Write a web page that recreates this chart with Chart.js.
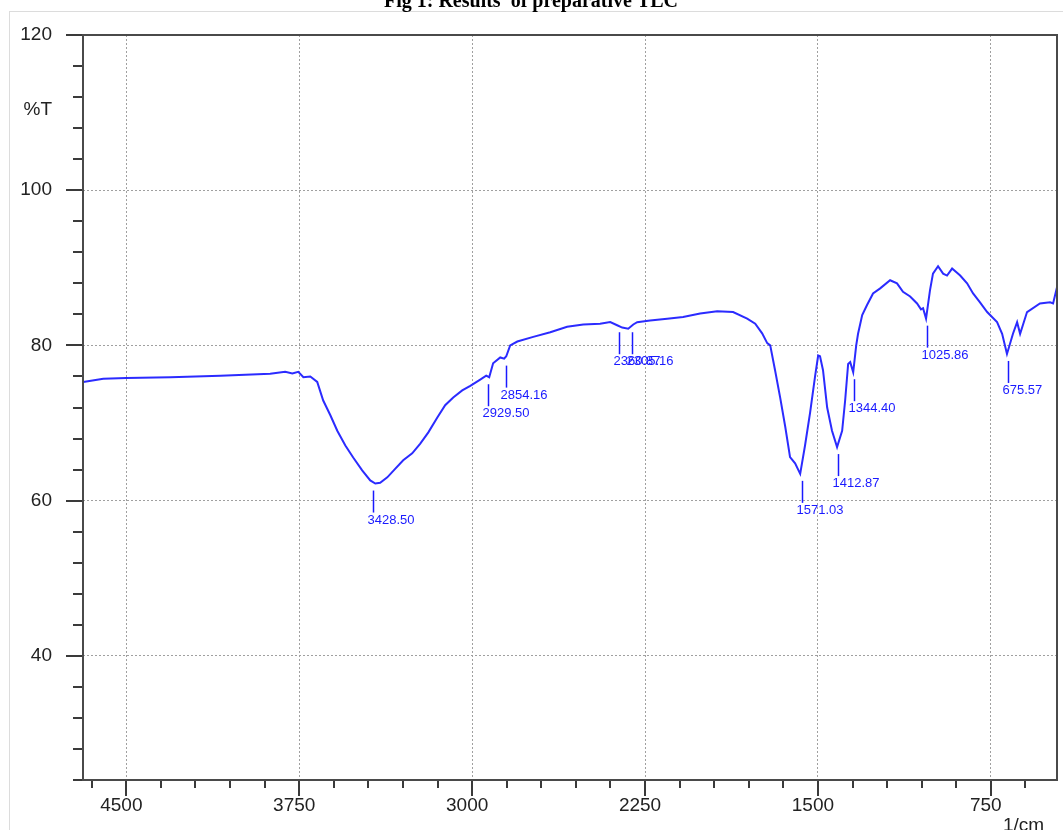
<!DOCTYPE html>
<html>
<head>
<meta charset="utf-8">
<script src="https://cdn.jsdelivr.net/npm/chart.js@4.4.1/dist/chart.umd.min.js"></script>
<style>
  html, body { margin: 0; padding: 0; background: #fff; overflow: hidden; }
  #wrap { width: 1063px; height: 830px; position: relative; }
</style>
</head>
<body>
<div id="wrap"><canvas id="irChart"></canvas></div>
<script>
// spectrum: wavenumber (1/cm) and %T
const waveNumbers = [4687, 4600, 4500, 4309, 4092, 3876, 3811, 3780, 3754, 3732,
    3702, 3672, 3646, 3615, 3585, 3550, 3516, 3477, 3442, 3420,
    3399, 3368, 3334, 3299, 3260, 3225, 3190, 3151, 3117, 3082,
    3043, 3008, 2965, 2939, 2926, 2909, 2878, 2861, 2852, 2835,
    2804, 2735, 2661, 2588, 2518, 2445, 2401, 2371, 2349, 2323,
    2301, 2284, 2228, 2154, 2085, 2011, 1937, 1868, 1807, 1772,
    1742, 1720, 1707, 1686, 1664, 1642, 1621, 1599, 1577, 1556,
    1534, 1512, 1499, 1491, 1478, 1460, 1439, 1417, 1395, 1382,
    1369, 1360, 1347, 1334, 1326, 1308, 1287, 1261, 1230, 1187,
    1157, 1131, 1100, 1070, 1053, 1044, 1031, 1014, 1001, 979,
    957, 940, 918, 883, 853, 827, 797, 766, 723, 701,
    680, 654, 636, 623, 593, 537, 493, 480, 463];
const transmittance = [75.3, 75.7, 75.8, 75.9, 76.1, 76.35, 76.6, 76.4, 76.6, 75.9,
    76.0, 75.3, 72.9, 71.0, 69.0, 67.1, 65.55, 63.9, 62.6, 62.2,
    62.3, 63.0, 64.1, 65.2, 66.1, 67.35, 68.8, 70.7, 72.3, 73.3,
    74.2, 74.8, 75.6, 76.1, 75.9, 77.7, 78.45, 78.3, 78.6, 80.0,
    80.5, 81.1, 81.7, 82.4, 82.7, 82.8, 83.0, 82.6, 82.3, 82.15,
    82.7, 83.0, 83.2, 83.45, 83.65, 84.1, 84.4, 84.3, 83.45, 82.8,
    81.55, 80.3, 80.0, 76.8, 73.3, 69.55, 65.6, 64.8, 63.45, 67.1,
    71.35, 76.1, 78.7, 78.6, 76.8, 72.0, 69.0, 66.9, 69.0, 72.9,
    77.6, 77.85, 76.55, 80.0, 81.5, 83.9, 85.2, 86.7, 87.35, 88.4,
    88.0, 86.9, 86.3, 85.4, 84.65, 84.8, 83.45, 87.1, 89.25, 90.2,
    89.25, 89.0, 89.9, 89.0, 88.0, 86.7, 85.55, 84.3, 83.0, 81.5,
    78.9, 81.5, 83.0, 81.5, 84.3, 85.4, 85.55, 85.4, 87.5];

// picked peaks
const peakWaves = [3428.50, 2929.50, 2854.16, 2360.87, 2305.16, 1571.03, 1412.87, 1344.40, 1025.86, 675.57];
const peakValues = [62.2, 75.9, 78.3, 82.6, 82.6, 63.45, 66.9, 76.55, 83.45, 78.9];
const peakLabels = ['3428.50', '2929.50', '2854.16', '2360.87', '2305.16', '1571.03', '1412.87', '1344.40', '1025.86', '675.57'];

// axis settings
const xMin = 463, xMax = 4688, xStep = 150, xMajor = 750;
const yMin = 24, yMax = 120, yStep = 4, yMajor = 20;

const titleText = 'Fig 1: Results  of preparative TLC';
const yTitle = '%T';
const xTitle = '1/cm';

const points = waveNumbers.map((w, i) => ({ x: w, y: transmittance[i] }));

const decorations = {
    id: 'decorations',
    beforeDraw(chart) {
        const ctx = chart.ctx;
        ctx.save();
        // outer light frame
        ctx.strokeStyle = '#dcdcdc';
        ctx.lineWidth = 1;
        ctx.strokeRect(9.5, 11.5, 1200, 1200);
        // cropped figure caption
        ctx.fillStyle = '#000';
        ctx.font = 'bold 20px "Liberation Serif", serif';
        ctx.textAlign = 'center';
        ctx.textBaseline = 'alphabetic';
        ctx.fillText(titleText, 531, 7);
        ctx.restore();
    },
    afterDraw(chart) {
        const ctx = chart.ctx;
        const area = chart.chartArea;
        const xs = chart.scales.x, ys = chart.scales.y;
        ctx.save();

        // tick marks
        ctx.strokeStyle = '#3a3a3a';
        ctx.lineWidth = 2;
        ys.ticks.forEach(t => {
            const py = Math.round(ys.getPixelForValue(t.value));
            const len = t.value % yMajor === 0 ? 17 : 10;
            ctx.beginPath();
            ctx.moveTo(area.left - len, py);
            ctx.lineTo(area.left, py);
            ctx.stroke();
        });
        xs.ticks.forEach(t => {
            const px = Math.round(xs.getPixelForValue(t.value));
            const len = t.value % xMajor === 0 ? 16 : 8;
            ctx.beginPath();
            ctx.moveTo(px, area.bottom);
            ctx.lineTo(px, area.bottom + len);
            ctx.stroke();
        });

        // plot frame
        ctx.strokeStyle = '#4a4a4a';
        ctx.lineWidth = 2;
        ctx.strokeRect(area.left, area.top, area.right - area.left, area.bottom - area.top);

        // axis captions
        ctx.fillStyle = '#222';
        ctx.font = '19px "Liberation Sans", Arial, sans-serif';
        ctx.textAlign = 'right';
        ctx.textBaseline = 'middle';
        ctx.fillText(yTitle, 52, 110);
        ctx.textAlign = 'left';
        ctx.textBaseline = 'alphabetic';
        ctx.fillText(xTitle, 1003, 831);

        // peak markers
        ctx.strokeStyle = '#1a1aff';
        ctx.fillStyle = '#1a1aff';
        ctx.lineWidth = 1.5;
        ctx.font = '13px "Liberation Sans", Arial, sans-serif';
        ctx.textAlign = 'left';
        ctx.textBaseline = 'top';
        peakWaves.forEach((w, i) => {
            const px = Math.round(xs.getPixelForValue(w)) + 0.5;
            const py = ys.getPixelForValue(peakValues[i]);
            ctx.beginPath();
            ctx.moveTo(px, py + 7);
            ctx.lineTo(px, py + 29);
            ctx.stroke();
            ctx.fillText(peakLabels[i], px - 6, py + 30);
        });
        ctx.restore();
    }
};

new Chart(document.getElementById('irChart'), {
    type: 'line',
    data: {
        datasets: [{
            label: '%T',
            data: points,
            borderColor: '#2b2bff',
            borderWidth: 2,
            pointRadius: 0,
            tension: 0,
            fill: false
        }]
    },
    options: {
        responsive: true,
        maintainAspectRatio: false,
        animation: false,
        devicePixelRatio: 1,
        layout: { padding: { top: 35, right: 6, left: 0, bottom: 0 } },
        plugins: {
            legend: { display: false },
            tooltip: { enabled: false },
            title: { display: false }
        },
        scales: {
            x: {
                type: 'linear',
                reverse: true,
                min: xMin,
                max: xMax,
                afterFit: scale => {
                    scale.height = 50;
                    scale.paddingLeft = 0;
                    scale.paddingRight = 0;
                },
                border: { display: false, dash: [2, 2] },
                grid: {
                    drawTicks: false,
                    lineWidth: 1,
                    color: ctx => ctx.tick && ctx.tick.value % xMajor === 0 ? '#a0a0a0' : 'rgba(0,0,0,0)'
                },
                ticks: {
                    stepSize: xStep,
                    includeBounds: false,
                    autoSkip: false,
                    maxRotation: 0,
                    padding: 14,
                    labelOffset: -5,
                    color: '#222',
                    font: { family: '"Liberation Sans", Arial, sans-serif', size: 19 },
                    callback: v => v % xMajor === 0 ? String(v) : ''
                }
            },
            y: {
                min: yMin,
                max: yMax,
                afterFit: scale => {
                    scale.width = 83;
                    scale.paddingTop = 0;
                    scale.paddingBottom = 0;
                },
                border: { display: false, dash: [2, 2] },
                grid: {
                    drawTicks: false,
                    lineWidth: 1,
                    color: ctx => ctx.tick && ctx.tick.value % yMajor === 0 ? '#a0a0a0' : 'rgba(0,0,0,0)'
                },
                ticks: {
                    stepSize: yStep,
                    autoSkip: false,
                    padding: 31,
                    color: '#222',
                    font: { family: '"Liberation Sans", Arial, sans-serif', size: 19 },
                    callback: v => v % yMajor === 0 ? String(v) : ''
                }
            }
        }
    },
    plugins: [decorations]
});
</script>
</body>
</html>
